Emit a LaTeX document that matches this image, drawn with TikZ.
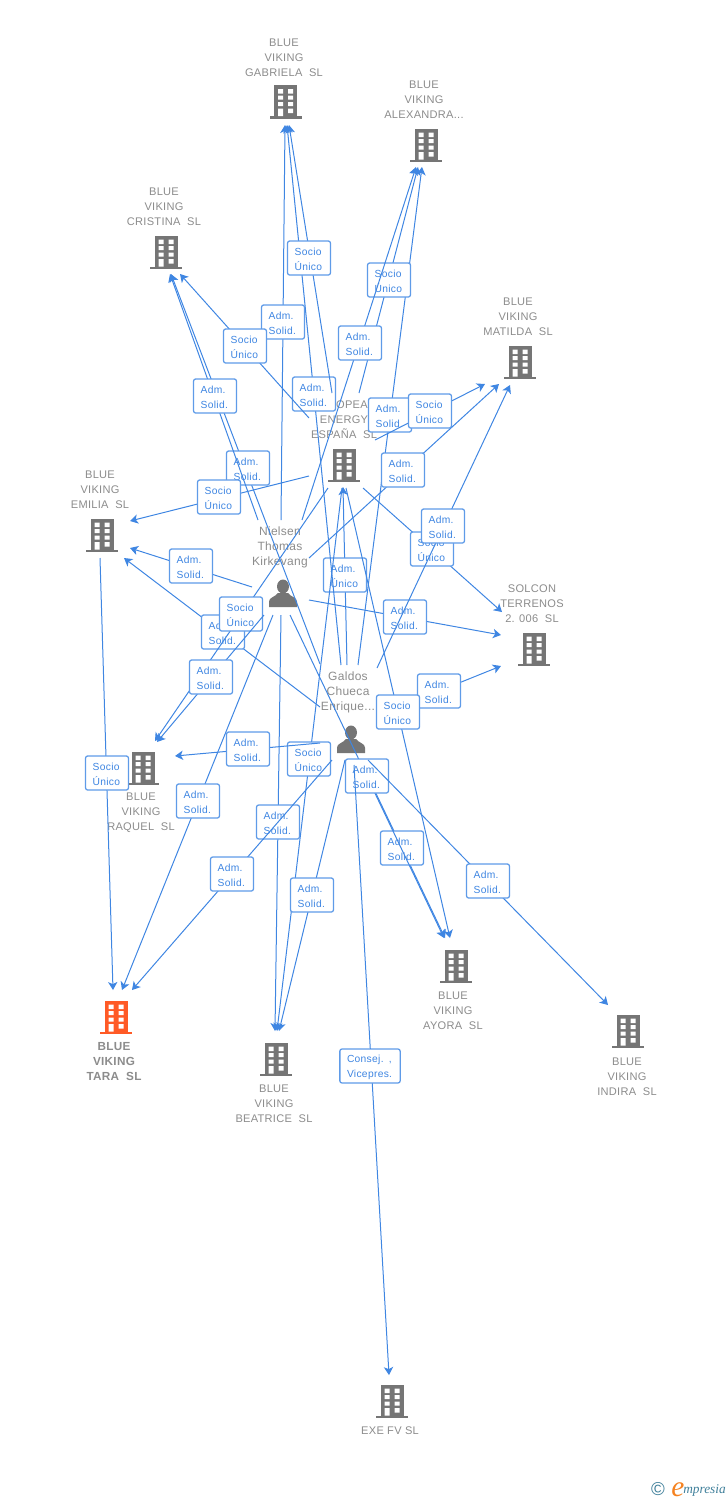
\documentclass[tikz,border=0pt]{standalone}
\usepackage{fontspec}
\setmainfont{Liberation Sans}
\newfontfamily\boxfont[LetterSpace=3]{Liberation Sans}
\newfontfamily\labfont[LetterSpace=2.5]{Liberation Sans}
\newfontfamily\logofont{Liberation Serif}
\usetikzlibrary{arrows.meta}
\definecolor{linkc}{HTML}{3F86E2}
\definecolor{boxc}{HTML}{5F9BE8}
\definecolor{labc}{HTML}{8C8C8C}
\definecolor{iconc}{HTML}{757575}
\definecolor{hotc}{HTML}{FF5A26}
\definecolor{logot}{HTML}{3F7F9A}
\definecolor{logoo}{HTML}{F58220}
\tikzset{
  lnk/.style={draw=linkc,line width=0.75pt,-{Stealth[length=6pt,width=7pt,inset=1.6pt]}},
  lbox/.style={draw=boxc,line width=0.95pt,rounded corners=1.6pt,fill=white,text=linkc,
    font=\boxfont\fontsize{7.7}{11.25}\selectfont,align=left,text width=21.5pt,inner xsep=5.35pt,inner ysep=2.4pt,
    minimum height=25.5pt,anchor=center},
  wbox/.style={lbox,text width=34.5pt},
  lab/.style={text=labc,font=\labfont\fontsize{8.3}{11.25}\selectfont,align=center,inner sep=0pt},
  plab/.style={text=labc,font=\labfont\fontsize{9}{11.25}\selectfont,align=center,inner sep=0pt},
  hlab/.style={lab,font=\labfont\fontsize{8.8}{11.25}\selectfont\bfseries}
}
% building icon: #1 name, #2 centre, #3 colour
\newcommand{\bld}[3]{%
  \coordinate (#1) at (#2);
  \begin{scope}[shift={(#2)}]
    \fill[#3] (-11.5,-16.5) rectangle (11.5,15);
    \fill[#3] (-16,14.5) rectangle (16,17);
    \fill[white] (-7.5,-12.5) rectangle (-2.5,-8) (2.5,-12.5) rectangle (7.5,-8)
      (-7.5,-6) rectangle (-2.5,-2) (2.5,-6) rectangle (7.5,-2)
      (-7.5,0.5) rectangle (-2.5,4.5) (2.5,0.5) rectangle (7.5,4.5)
      (-7.5,7) rectangle (-2.5,14.5) (2.5,7) rectangle (7.5,11.5);
  \end{scope}}
% person icon
\newcommand{\psn}[2]{%
  \coordinate (#1) at (#2);
  \begin{scope}[shift={(#2)}]
    \fill[iconc] (0,-6.5) ellipse (6 and 7);
    \fill[iconc] (-14,14) -- (-14,8.5) .. controls (-14,4.5) and (-8,4) .. (-5,0) -- (5,0)
      .. controls (8,4) and (14,4.5) .. (14,8.5) -- (14,14) -- cycle;
  \end{scope}}
% connector: #1 box style, #2 name, #3 start, #4 tip, #5 box centre, #6 text
\newcommand{\lk}[6][lbox]{%
  \coordinate (#2-s) at (#3);
  \coordinate (#2-t) at (#4);
  \draw[lnk] (#2-s) -- (#2-t);
  \node[#1] (#2) at (#5) {\rule{0pt}{7.3pt}#6};}
\newcommand{\AS}{Adm.\\Solid.}
\newcommand{\SU}{Socio\\Único}
\begin{document}
\begin{tikzpicture}[x=0.75pt,y=-0.75pt]
\useasboundingbox (0,0) rectangle (728,1500);
% labels
\node[lab] (lgab) at (284,58) {BLUE\\VIKING\\GABRIELA\ \ SL};
\node[lab] (lale) at (424,100) {BLUE\\VIKING\\ALEXANDRA...};
\node[lab] (lcri) at (164,207) {BLUE\\VIKING\\CRISTINA\ \ SL};
\node[lab] (lmat) at (518,317) {BLUE\\VIKING\\MATILDA\ \ SL};
\node[lab] (leur) at (344,420) {EUROPEAN\\ENERGY\\ESPAÑA\ \ SL};
\node[lab] (lemi) at (100,490) {BLUE\\VIKING\\EMILIA\ \ SL};
\node[lab] (lsol) at (532,604) {SOLCON\\TERRENOS\\2. 006\ \ SL};
\node[lab] (lraq) at (141,813) {BLUE\\VIKING\\RAQUEL\ \ SL};
\node[hlab] (ltar) at (114,1062) {BLUE\\VIKING\\TARA\ \ SL};
\node[lab] (lbea) at (274,1104) {BLUE\\VIKING\\BEATRICE\ \ SL};
\node[lab] (layo) at (453,1011) {BLUE\\VIKING\\AYORA\ \ SL};
\node[lab] (lind) at (627,1077) {BLUE\\VIKING\\INDIRA\ \ SL};
\node[lab] (lexe) at (390,1431) {EXE FV SL};
\node[plab] (lnie) at (280,547) {Nielsen\\Thomas\\Kirkevang};
\node[plab] (lgal) at (348,692) {Galdos\\Chueca\\Enrique...};
% icons
\bld{igab}{285.5,101.5}{iconc}
\bld{iale}{426,145}{iconc}
\bld{icri}{166,252}{iconc}
\bld{imat}{520,362}{iconc}
\bld{ieur}{344,465}{iconc}
\bld{iemi}{102,535}{iconc}
\bld{isol}{534,649}{iconc}
\bld{iraq}{143,768}{iconc}
\bld{itar}{116,1017}{hotc}
\bld{ibea}{276,1059}{iconc}
\bld{iayo}{456,966}{iconc}
\bld{iind}{628,1031}{iconc}
\bld{iexe}{392,1401}{iconc}
\psn{inie}{283,593}
\psn{igal}{351,739}
% connectors, in drawing order
\lk{a1}{309,600}{501,635}{405,617}{\AS}
\lk{a2}{377,716}{501,666}{439,691}{\AS}
\lk{a3}{320,707}{124,558}{223,632}{\AS}
\lk{a30}{328,488}{155,741}{241,614}{\SU}
\lk{a4}{320,664}{171,274}{248,468}{\AS}
\lk{a5}{358,665}{422,167}{390,415}{\AS}
\lk{a6}{347,665}{343,487}{345,575}{Adm.\\Único}
\lk{a7}{341,665}{287,125}{314,394}{\AS}
\lk{a8}{360,760}{445,938}{402,848}{\AS}
\lk{a9}{290,615}{444,938}{367,776}{\AS}
\lk{a32}{342,488}{277,1031}{309,759}{\SU}
\lk{a10}{281,615}{275,1031}{278,822}{\AS}
\lk{a11}{332,760}{132,990}{232,874}{\AS}
\lk{a12}{368,760}{608,1005}{488,881}{\AS}
\lk{a13}{345,760}{279,1031}{312,895}{\AS}
\lk[wbox]{a14}{354,765}{389,1375}{370,1066}{Consej. ,\\Vicepres.}
\lk{a15}{320,743}{175,756}{248,749}{\AS}
\lk{a16}{273,615}{122,990}{198,801}{\AS}
\lk{a17}{264,615}{157,742}{211,677}{\AS}
\lk{a18}{252,587}{130,548}{191,566}{\AS}
\lk{a19}{258,520}{170,274}{215,396}{\AS}
\lk{a20}{281,520}{285,125}{283,322}{\AS}
\lk{a26}{359,393}{418,167}{389,280}{\SU}
\lk{a21}{302,520}{416,167}{360,343}{\AS}
\lk{a22}{309,558}{499,384}{403,470}{\AS}
\lk{a23}{363,488}{502,612}{432,549}{\SU}
\lk{a24}{377,668}{510,385}{443,526}{\AS}
\lk{a25}{332,393}{289,125}{309,258}{\SU}
\lk{a27}{309,418}{180,274}{245,346}{\SU}
\lk{a28}{375,440}{485,384}{430,411}{\SU}
\lk{a29}{309,476}{130,521}{219,497}{\SU}
\lk{a31}{100,558}{113,990}{107,773}{\SU}
\lk{a33}{346,488}{450,938}{398,712}{\SU}
% mark
\node[inner sep=0pt,text=logot] (lc) at (658,1489) {\fontsize{14}{14}\selectfont ©};
\node[inner sep=0pt,anchor=base west,text=logoo] (le) at (671,1496) {\logofont\fontsize{22}{22}\selectfont\itshape e};
\node[inner sep=0pt,anchor=base west,text=logot] (lm) at (683,1493) {\logofont\fontsize{10}{10}\selectfont\itshape mpresia};
\end{tikzpicture}
\end{document}
